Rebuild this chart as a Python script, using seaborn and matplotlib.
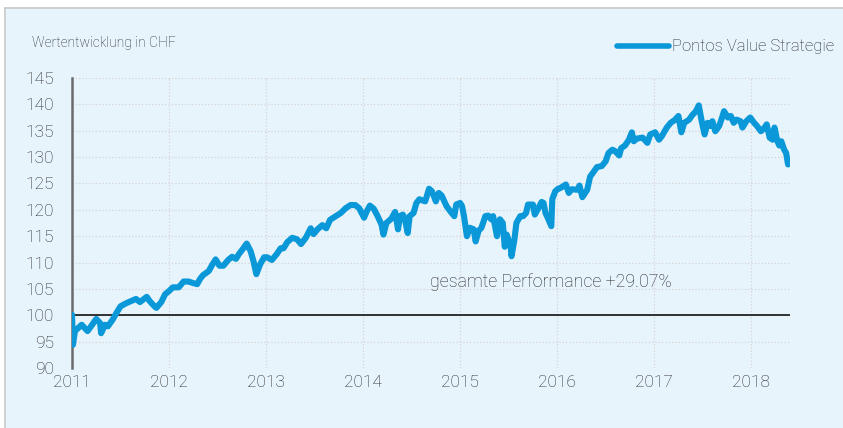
import matplotlib
matplotlib.use("Agg")
import matplotlib.pyplot as plt
import pandas as pd
import seaborn as sns

# values (decimal year, index value in CHF)
years = [
    2011.00, 2011.01, 2011.03, 2011.10, 2011.16, 2011.20, 2011.25, 2011.29, 2011.30, 2011.34,
    2011.37, 2011.42, 2011.46, 2011.50, 2011.56, 2011.61, 2011.66, 2011.70, 2011.77, 2011.80,
    2011.85, 2011.87, 2011.92, 2011.96, 2012.00,
    2012.04, 2012.10, 2012.15, 2012.20, 2012.25, 2012.29, 2012.32, 2012.35, 2012.41, 2012.44,
    2012.48, 2012.52, 2012.56, 2012.61, 2012.65, 2012.69, 2012.72, 2012.77, 2012.80, 2012.84,
    2012.87, 2012.90, 2012.94, 2012.98,
    2013.01, 2013.06, 2013.11, 2013.15, 2013.18, 2013.22, 2013.27, 2013.32, 2013.36, 2013.41,
    2013.46, 2013.49, 2013.53, 2013.58, 2013.62, 2013.66, 2013.71, 2013.77, 2013.82, 2013.87,
    2013.92, 2013.96, 2014.01, 2014.04,
    2014.07, 2014.11, 2014.15, 2014.19, 2014.21, 2014.24, 2014.29, 2014.33, 2014.36, 2014.38,
    2014.41, 2014.43, 2014.46, 2014.48, 2014.52, 2014.55, 2014.58, 2014.64, 2014.68, 2014.71,
    2014.75, 2014.78, 2014.81, 2014.86, 2014.90, 2014.94, 2014.96, 2015.00, 2015.02,
    2015.04, 2015.07, 2015.10, 2015.14, 2015.16, 2015.19, 2015.22, 2015.26, 2015.29, 2015.32,
    2015.34, 2015.38, 2015.41, 2015.44, 2015.46, 2015.48, 2015.52, 2015.53, 2015.56, 2015.58,
    2015.62, 2015.65, 2015.68, 2015.70, 2015.75, 2015.77, 2015.80, 2015.84, 2015.86, 2015.88,
    2015.91, 2015.94, 2015.95, 2015.98, 2016.01,
    2016.03, 2016.09, 2016.12, 2016.15, 2016.21, 2016.23, 2016.26, 2016.31, 2016.34, 2016.38,
    2016.41, 2016.46, 2016.50, 2016.53, 2016.57, 2016.60, 2016.64, 2016.66, 2016.70, 2016.74,
    2016.77, 2016.79, 2016.82, 2016.88, 2016.93, 2016.96,
    2017.01, 2017.05, 2017.08, 2017.13, 2017.17, 2017.21, 2017.25, 2017.28, 2017.31, 2017.36,
    2017.39, 2017.43, 2017.46, 2017.49, 2017.52, 2017.55, 2017.58, 2017.60, 2017.63, 2017.67,
    2017.70, 2017.72, 2017.76, 2017.79, 2017.82, 2017.85, 2017.89, 2017.91, 2017.95, 2017.99,
    2018.03, 2018.06, 2018.10, 2018.13, 2018.16, 2018.19, 2018.22, 2018.24, 2018.27, 2018.29,
    2018.31, 2018.34, 2018.36, 2018.38, 2018.40,
]
values = [
    100.1, 94.4, 97.0, 98.2, 97.0, 98.0, 99.3, 98.5, 96.6, 98.2,
    97.9, 99.2, 100.5, 101.7, 102.3, 102.7, 103.1, 102.5, 103.5, 102.7,
    101.7, 101.4, 102.5, 104.0, 104.6,
    105.3, 105.3, 106.4, 106.4, 106.1, 105.9, 106.9, 107.6, 108.4, 109.4,
    110.6, 109.4, 109.4, 110.5, 111.1, 110.7, 111.6, 112.8, 113.6, 112.2,
    110.3, 107.8, 109.7, 111.0,
    111.0, 110.5, 111.6, 112.7, 112.7, 113.9, 114.7, 114.4, 113.5, 114.7,
    116.5, 115.4, 116.3, 117.1, 116.5, 118.1, 118.7, 119.4, 120.3, 120.9,
    120.9, 120.3, 118.5, 119.8,
    120.8, 120.2, 118.8, 117.2, 115.3, 117.5, 118.3, 119.6, 116.3, 118.8,
    119.1, 118.3, 115.6, 118.8, 119.4, 121.3, 122.0, 121.6, 124.0, 123.5,
    121.6, 123.2, 122.7, 120.7, 119.7, 118.8, 121.0, 121.3, 120.7,
    118.8, 115.0, 116.6, 116.3, 114.0, 116.0, 116.6, 118.8, 118.9, 118.2,
    118.8, 115.0, 118.2, 117.5, 113.0, 115.3, 113.1, 111.2, 114.4, 117.5,
    118.8, 118.8, 119.4, 121.0, 121.0, 119.1, 120.1, 121.5, 121.3, 119.4,
    118.2, 116.9, 122.0, 123.5, 124.0,
    124.1, 124.8, 123.2, 123.9, 123.8, 124.6, 122.4, 123.8, 126.3, 127.3,
    128.1, 128.3, 129.2, 130.8, 131.4, 131.1, 130.3, 131.7, 132.2, 133.3,
    134.7, 133.0, 133.5, 133.7, 132.7, 134.3,
    134.7, 133.3, 134.0, 135.6, 136.5, 137.0, 137.8, 134.7, 136.5, 137.1,
    137.9, 138.7, 139.8, 136.8, 134.3, 136.5, 135.9, 136.8, 134.9, 135.9,
    137.5, 138.7, 137.5, 137.8, 136.5, 137.1, 136.8, 135.6, 136.8, 137.5,
    136.5, 135.9, 134.9, 135.4, 136.2, 133.7, 133.3, 135.6, 133.0, 132.2,
    133.0, 131.4, 130.8, 128.6, 129.2,
]
year_ticks = [2011, 2012, 2013, 2014, 2015, 2016, 2017, 2018]
value_ticks = [90, 95, 100, 105, 110, 115, 120, 125, 130, 135, 140, 145]
series_name = "Pontos Value Strategie"
y_title = "Wertentwicklung in CHF"
note = "gesamte Performance +29.07%"

df = pd.DataFrame({"Jahr": years, "Wert": values, "Serie": series_name})

bg = "#e8f4fc"
blue = "#0a98d8"
txt = "#262626"

sns.set_style("whitegrid", {
    "axes.facecolor": bg,
    "figure.facecolor": bg,
    "grid.color": "#d4d4d4",
    "grid.linestyle": ":",
})
plt.rcParams["font.family"] = ["Roboto", "DejaVu Sans"]

fig = plt.figure(figsize=(8.43, 4.28), dpi=100)
ax = fig.add_axes([72 / 843, 60 / 428, 718 / 843, 290 / 428])

sns.lineplot(data=df, x="Jahr", y="Wert", hue="Serie", palette=[blue],
             linewidth=4.4, ax=ax, legend=False, zorder=3)
ax.axhline(100, color="black", linewidth=1.1, zorder=2)

ax.set_xlim(2011, 2018.40)
ax.set_ylim(90, 145)
ax.set_xticks(year_ticks)
ax.set_xticklabels([str(y) for y in year_ticks])
ax.set_yticks(value_ticks)
ax.set_xlabel("")
ax.set_ylabel("")
ax.grid(True, color="#d4d4d4", linestyle=":", linewidth=0.9)
ax.tick_params(axis="y", length=0, pad=13, labelsize=12.5, labelcolor=txt)
ax.tick_params(axis="x", length=0, pad=5, labelsize=12.5, labelcolor=txt)
for lab in ax.get_xticklabels() + ax.get_yticklabels():
    lab.set_fontweight("light")
for s in ["top", "right", "bottom"]:
    ax.spines[s].set_visible(False)
ax.spines["left"].set_color("#6b6b6b")
ax.spines["left"].set_linewidth(1.8)

ax.text(358 / 718, 0.297, note, transform=ax.transAxes, fontsize=12.8, color=txt,
        fontweight="light", ha="left", va="center")

fig.text(32 / 843, 1 - 43 / 428, y_title, fontsize=10, color=txt,
         fontweight="light", ha="left", va="center")

# legend drawn in figure coordinates
fig.add_artist(plt.Line2D([617 / 843, 669 / 843], [1 - 46 / 428, 1 - 46 / 428],
                          color=blue, linewidth=4, solid_capstyle="round"))
fig.text(672 / 843, 1 - 46 / 428, series_name, fontsize=12, color=txt,
         fontweight="light", ha="left", va="center")

# white frame strip at top and left like the cropped page
fig.add_artist(plt.Rectangle((0, 1 - 8 / 428), 1, 8 / 428, transform=fig.transFigure,
                             facecolor="white", edgecolor="none"))
fig.add_artist(plt.Rectangle((0, 0), 5 / 843, 1, transform=fig.transFigure,
                             facecolor="white", edgecolor="none"))
fig.add_artist(plt.Line2D([5 / 843, 1], [1 - 8 / 428, 1 - 8 / 428], color="#c8c8c8", linewidth=1.2))
fig.add_artist(plt.Line2D([5 / 843, 5 / 843], [0, 1 - 8 / 428], color="#c8c8c8", linewidth=1.2))

fig.savefig("out.png", dpi=100, facecolor=bg)
